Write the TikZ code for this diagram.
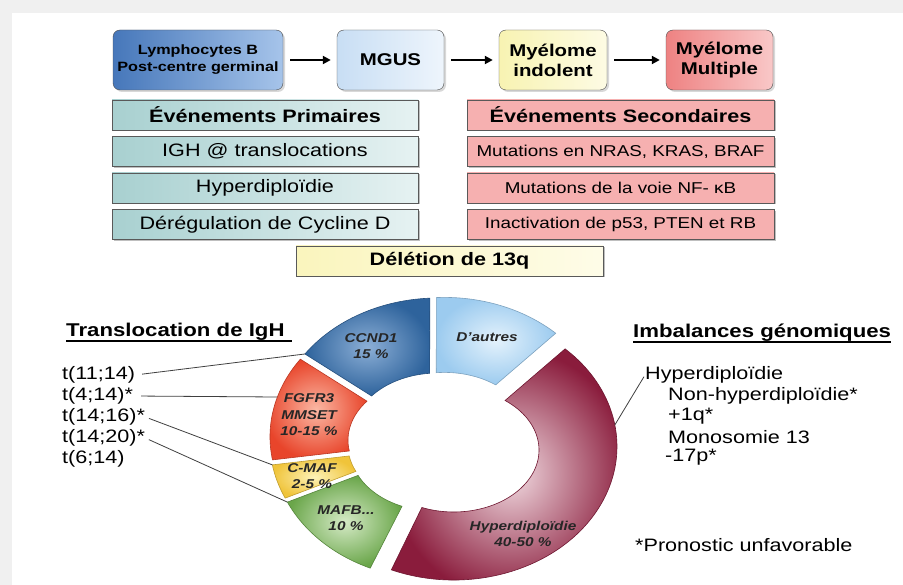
\documentclass[tikz,border=0pt]{standalone}
\usepackage{fontspec}
\setmainfont{Liberation Sans}[FakeStretch=1.2]
\usetikzlibrary{arrows.meta,shadows,calc}
\definecolor{blueD}{HTML}{4677BA}
\definecolor{blueL}{HTML}{A6C4EA}
\definecolor{mgusD}{HTML}{C8DEF4}
\definecolor{mgusL}{HTML}{EEF5FC}
\definecolor{yelD}{HTML}{F8F3B2}
\definecolor{yelL}{HTML}{FDFBE4}
\definecolor{redD}{HTML}{EE8282}
\definecolor{redL}{HTML}{F9C8C8}
\definecolor{tealL}{HTML}{A8D0D0}
\definecolor{tealR}{HTML}{E6F2F2}
\definecolor{pinkA}{HTML}{F6B0B0}
\definecolor{pinkB}{HTML}{FDE8E8}
\definecolor{dYL}{HTML}{FAF5BD}
\definecolor{dYR}{HTML}{FEFCE8}
\definecolor{ccD}{HTML}{2E639C}
\definecolor{ccL}{HTML}{8CAFD6}
\definecolor{daD}{HTML}{9CCBEF}
\definecolor{daL}{HTML}{E4F2FC}
\definecolor{fgD}{HTML}{E8452B}
\definecolor{fgL}{HTML}{FBB8A4}
\definecolor{cmD}{HTML}{F0C43A}
\definecolor{cmL}{HTML}{FDF2B8}
\definecolor{mfD}{HTML}{6AA64A}
\definecolor{mfL}{HTML}{D5EAC6}
\definecolor{hyD}{HTML}{8A1C3C}
\definecolor{hyL}{HTML}{F2DCE2}
\newcommand{\ringslice}[5]{%
  \shadedraw[#1] ([shift={(#2:163.2 and 133.5)}]441.8,-439.5)
    arc[start angle=#2, end angle=#3, x radius=163.2, y radius=133.5]
    -- ([shift={(#5:85.2 and 62)}]441.8,-443)
    arc[start angle=#5, end angle=#4, x radius=85.2, y radius=62] -- cycle;}
\begin{document}
\begin{tikzpicture}[x=1pt,y=1pt,
  topbox/.style={draw=black!70, rounded corners=7pt, minimum height=60pt, inner sep=0pt, align=center,
    font=\bfseries\fontsize{17}{20}\selectfont,
    drop shadow={shadow xshift=2pt, shadow yshift=-2pt, opacity=0.3}},
  tabrow/.style={draw=black!65, minimum height=30pt, inner sep=0pt, font=\fontsize{18}{20}\selectfont,
    drop shadow={shadow xshift=1.5pt, shadow yshift=-1.5pt, opacity=0.5}},
  lrow/.style={tabrow, minimum width=306pt, left color=tealL, right color=tealR},
  rrow/.style={tabrow, minimum width=307pt, left color=pinkA, middle color=pinkB, right color=pinkA},
  arr/.style={-{Triangle[length=8pt,width=8pt]}, line width=2pt, shorten <=7pt, shorten >=6pt},
  lab/.style={anchor=west, inner sep=0pt, font=\fontsize{18}{20}\selectfont},
  ttl/.style={anchor=west, inner sep=0pt, font=\bfseries\fontsize{18.5}{20}\selectfont},
  conn/.style={draw=black!75, line width=0.8pt},
  uline/.style={line width=1.6pt},
  dlab/.style={inner sep=0pt, align=center, font=\bfseries\itshape\fontsize{12.8}{16.5}\selectfont, text=black!85},
  slice/.style={line width=0.6pt}
]
% background frame
\fill[black!6] (0,0) rectangle (903,-585);
\fill[white] (12,-13) rectangle (903,-585);
\useasboundingbox (0,0) rectangle (903,-585);

% top flow
\node[topbox, minimum width=170pt, left color=blueD, right color=blueL,
  font=\bfseries\fontsize{13.5}{17}\selectfont] (b1) at (198,-60) {Lymphocytes B\\Post-centre germinal};
\node[topbox, minimum width=107pt, left color=mgusD, right color=mgusL] (b2) at (390.5,-60) {MGUS};
\node[topbox, minimum width=108pt, left color=yelD, right color=yelL] (b3) at (553,-60) {Myélome\\indolent};
\node[topbox, minimum width=107pt, left color=redD, right color=redL] (b4) at (719.5,-60) {Myélome\\Multiple};
\draw[arr] (b1) -- (b2);
\draw[arr] (b2) -- (b3);
\draw[arr] (b3) -- (b4);

% table
\node[lrow, font=\bfseries\fontsize{18}{20}\selectfont] (p0) at (265,-115) {Événements Primaires};
\node[lrow] (p1) at (265,-151.5) {IGH @ translocations};
\node[lrow] (p2) at (265,-188) {Hyperdiploïdie};
\node[lrow] (p3) at (265,-224.5) {Dérégulation de Cycline D};
\node[rrow, font=\bfseries\fontsize{18}{20}\selectfont] (s0) at (620.5,-115) {Événements Secondaires};
\node[rrow, font=\fontsize{15.7}{18}\selectfont] (s1) at (620.5,-151.5) {Mutations en NRAS, KRAS, BRAF};
\node[rrow, font=\fontsize{15.7}{18}\selectfont] (s2) at (620.5,-188) {Mutations de la voie NF- κB};
\node[rrow, font=\fontsize{15.7}{18}\selectfont] (s3) at (620.5,-224.5) {Inactivation de p53, PTEN et RB};
\node[tabrow, minimum width=307pt, left color=dYL, right color=dYR, font=\bfseries\fontsize{18}{20}\selectfont] (d13) at (449.5,-261) {Délétion de 13q};

% donut
\ringslice{slice, shift={(2.6,8.6)}, inner color=daL, outer color=daD, draw=daD!80!black}{47}{92.8}{53}{95.5}
\ringslice{slice, shift={(-4,8)}, inner color=ccL, outer color=ccD, draw=ccD!80!black}{92.8}{144.5}{95.5}{141}
\ringslice{slice, shift={(-8.6,2.8)}, inner color=fgL, outer color=fgD, draw=fgD!80!black}{144.5}{190}{141}{190}
\ringslice{slice, shift={(-8.7,-2.2)}, inner color=cmL, outer color=cmD, draw=cmD!80!black}{190}{205}{190}{205}
\ringslice{slice, shift={(-6.5,-6.2)}, inner color=mfL, outer color=mfD, draw=mfD!80!black}{205}{246.5}{205}{247}
\ringslice{slice, shift={(12,-7)}, inner color=hyL, outer color=hyD, draw=hyD!80!black}{247.5}{407}{248}{413}

\coordinate (ccndc) at ([shift={(144.5:163.2 and 133.5)}]437.8,-431.5);
\coordinate (fgc) at ([shift={(162.7:163.2 and 133.5)}]433.2,-436.7);
\coordinate (cmafc) at ([shift={(190:163.2 and 133.5)}]433.1,-441.7);
\coordinate (mafbc) at ([shift={(205:163.2 and 133.5)}]435.3,-445.7);
\coordinate (hypc) at ([shift={(9.3:163.2 and 133.5)}]453.8,-446.5);

\node[dlab] (lccnd) at (371,-346) {CCND1\\15 \%};
\node[dlab] (ldaut) at (487,-337) {D'autres};
\node[dlab] (lfg) at (309,-415) {FGFR3\\MMSET\\10-15 \%};
\node[dlab] (lcm) at (312,-476) {C-MAF\\2-5 \%};
\node[dlab] (lmf) at (346,-518) {MAFB...\\10 \%};
\node[dlab] (lhy) at (523,-534) {Hyperdiploïdie\\40-50 \%};

% left side
\node[ttl] (tl) at (66,-332) {Translocation de IgH};
\draw[uline] ([yshift=-4pt]tl.base west) -- ([xshift=7pt,yshift=-4pt]tl.base east);
\node[lab] (t1) at (62,-375) {t(11;14)};
\node[lab] (t2) at (62,-396) {t(4;14)*};
\node[lab] (t3) at (62,-417) {t(14;16)*};
\node[lab] (t4) at (62,-438) {t(14;20)*};
\node[lab] (t5) at (62,-459) {t(6;14)};
\draw[conn, shorten <=7pt] (t1.east) -- (ccndc);
\draw[conn, shorten <=8pt] (t2.east) -- (fgc);
\draw[conn, shorten <=4pt] (t3.east) -- (cmafc);
\draw[conn, shorten <=4pt] (t4.east) -- (mafbc);

% right side
\node[ttl] (tr) at (633,-333) {Imbalances génomiques};
\draw[uline] ([yshift=-4pt]tr.base west) -- ([yshift=-4pt]tr.base east);
\node[lab] (r1) at (645,-375) {Hyperdiploïdie};
\node[lab] (r2) at (668,-396) {Non-hyperdiploïdie*};
\node[lab] (r3) at (668,-416.5) {+1q*};
\node[lab] (r4) at (668,-437) {Monosomie 13};
\node[lab] (r5) at (665,-457.5) {-17p*};
\node[lab] (pn) at (635,-545) {*Pronostic unfavorable};
\draw[conn, shorten <=2pt] (r1.west) -- (hypc);
\end{tikzpicture}
\end{document}
